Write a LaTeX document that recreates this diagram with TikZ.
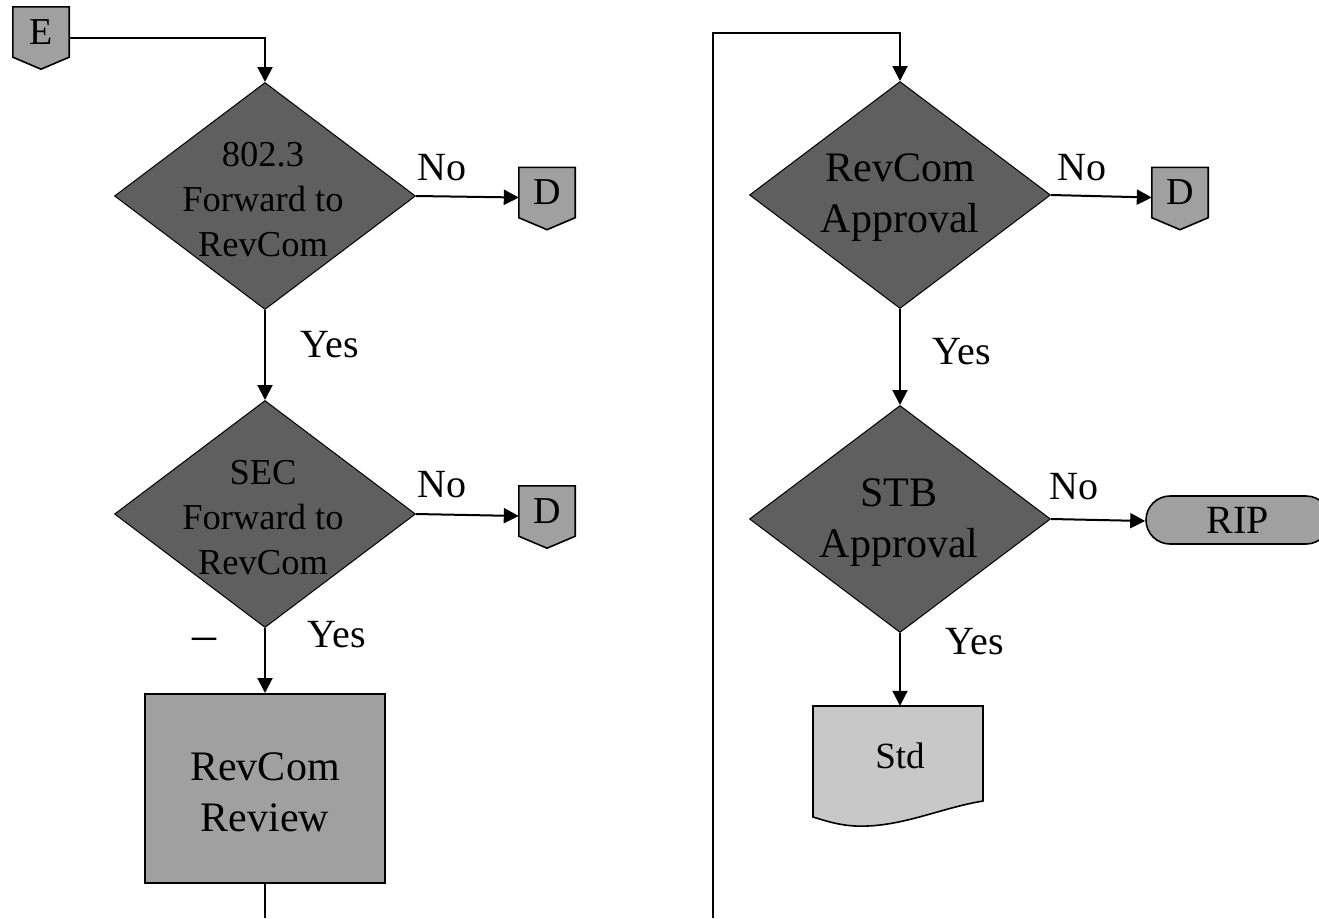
\documentclass[tikz,border=0pt]{standalone}
\usepackage{fontspec}
\setmainfont{Liberation Serif}
\usetikzlibrary{shapes.geometric,shapes.misc,arrows.meta,backgrounds}
\definecolor{dia}{HTML}{5F5F5F}
\definecolor{boxg}{HTML}{A0A0A0}
\definecolor{docg}{HTML}{C8C8C8}
\begin{document}
\begin{tikzpicture}[x=1pt,y=-1pt,
  dec/.style={diamond, draw=black, line width=1pt, fill=dia, minimum width=301pt, minimum height=227pt, inner sep=0pt, aspect=1.32},
  smalltxt/.style={align=center, inner sep=0pt, font=\fontsize{36.5}{45}\selectfont},
  bigtxt/.style={align=center, inner sep=0pt, font=\fontsize{42}{51}\selectfont},
  lbl/.style={inner sep=0pt, font=\fontsize{40}{48}\selectfont},
  offp/.style={minimum width=56pt, minimum height=50pt, inner sep=0pt, font=\fontsize{38}{44}\selectfont},
  shp/.style={draw=black, line width=1.6pt},
  conn/.style={line width=2pt, -{Triangle[length=15pt,width=15pt]}},
  plainline/.style={line width=2pt},
]
\useasboundingbox (0,0) rectangle (1319,918);
\clip (0,0) rectangle (1319,918);

% Left column
\node[offp] (e) at (41,32) {E};
\node[dec] (q1) at (265,196) {};
\node[smalltxt] (t1) at (263,200) {802.3\\Forward to\\RevCom};
\node[offp] (d1) at (547,192.5) {D};
\node[lbl] (no1) at (442,168) {No};
\node[lbl] (yes1) at (330,345) {Yes};

\node[dec] (q2) at (265,514) {};
\node[smalltxt] (t2) at (263,518) {SEC\\Forward to\\RevCom};
\node[offp] (d2) at (547,511) {D};
\node[lbl] (no2) at (442,485) {No};
\node[lbl] (yes2) at (337,635) {Yes};
\node[inner sep=0pt, font=\fontsize{48}{50}\selectfont] (dash) at (204,644) {–};

\node[rectangle, draw=black, line width=2pt, fill=boxg, minimum width=240pt, minimum height=189pt, inner sep=0pt] (rr) at (265,788.5) {};
\node[bigtxt] (trr) at (265,792) {RevCom\\Review};
\coordinate (bot1) at (265,918);

% Right column
\coordinate (bot2) at (713,918);
\coordinate (tl) at (713,33);
\node[dec] (q3) at (900,195) {};
\node[bigtxt] (t3) at (900,198) {RevCom\\Approval};
\node[offp] (d3) at (1180,192.5) {D};
\node[lbl] (no3) at (1082,168) {No};
\node[lbl] (yes3) at (962,352) {Yes};

\node[dec] (q4) at (900,519) {};
\node[bigtxt] (t4) at (899,523) {STB\\Approval};
\node[rounded rectangle, draw=black, line width=1.6pt, fill=boxg, minimum width=184pt, minimum height=48pt, inner sep=0pt, font=\fontsize{40}{48}\selectfont] (rip) at (1238,520) {RIP};
\node[lbl] (no4) at (1074,487) {No};
\node[lbl] (yes4) at (975,642) {Yes};

\fill[docg] (813,706) -- (983,706) -- (983,801) .. controls (940,808) and (900,828) .. (855,826) .. controls (838,825) and (826,821) .. (813,817) -- cycle;
\draw[shp] (813,706) -- (983,706) -- (983,801) .. controls (940,808) and (900,828) .. (855,826) .. controls (838,825) and (826,821) .. (813,817) -- cycle;
\node[minimum width=170pt, minimum height=100pt, inner sep=0pt, font=\fontsize{37}{44}\selectfont] (std) at (900,756) {Std};

% off-page connector shapes
\begin{scope}[on background layer]
\foreach \n in {e,d1,d2,d3}
  \draw[shp, fill=boxg] (\n.north west) -- (\n.north east) -- (\n.south east) -- ([yshift=-12pt]\n.south) -- (\n.south west) -- cycle;
\end{scope}

% connectors
\draw[conn] ([yshift=-6pt]e.east) -| (q1.north);
\draw[conn] (q1.east) -- ([yshift=-5pt]d1.west);
\draw[conn] (q1.south) -- (q2.north);
\draw[conn] (q2.east) -- ([yshift=-5pt]d2.west);
\draw[conn] (q2.south) -- (rr.north);
\draw[plainline] (rr.south) -- (bot1);

\draw[conn] (bot2) -- (tl) -| (q3.north);
\draw[conn] (q3.east) -- ([yshift=-5pt]d3.west);
\draw[conn] (q3.south) -- (q4.north);
\draw[conn] (q4.east) -- ([yshift=-1pt]rip.west);
\draw[conn] (q4.south) -- (std.north);
\end{tikzpicture}
\end{document}
